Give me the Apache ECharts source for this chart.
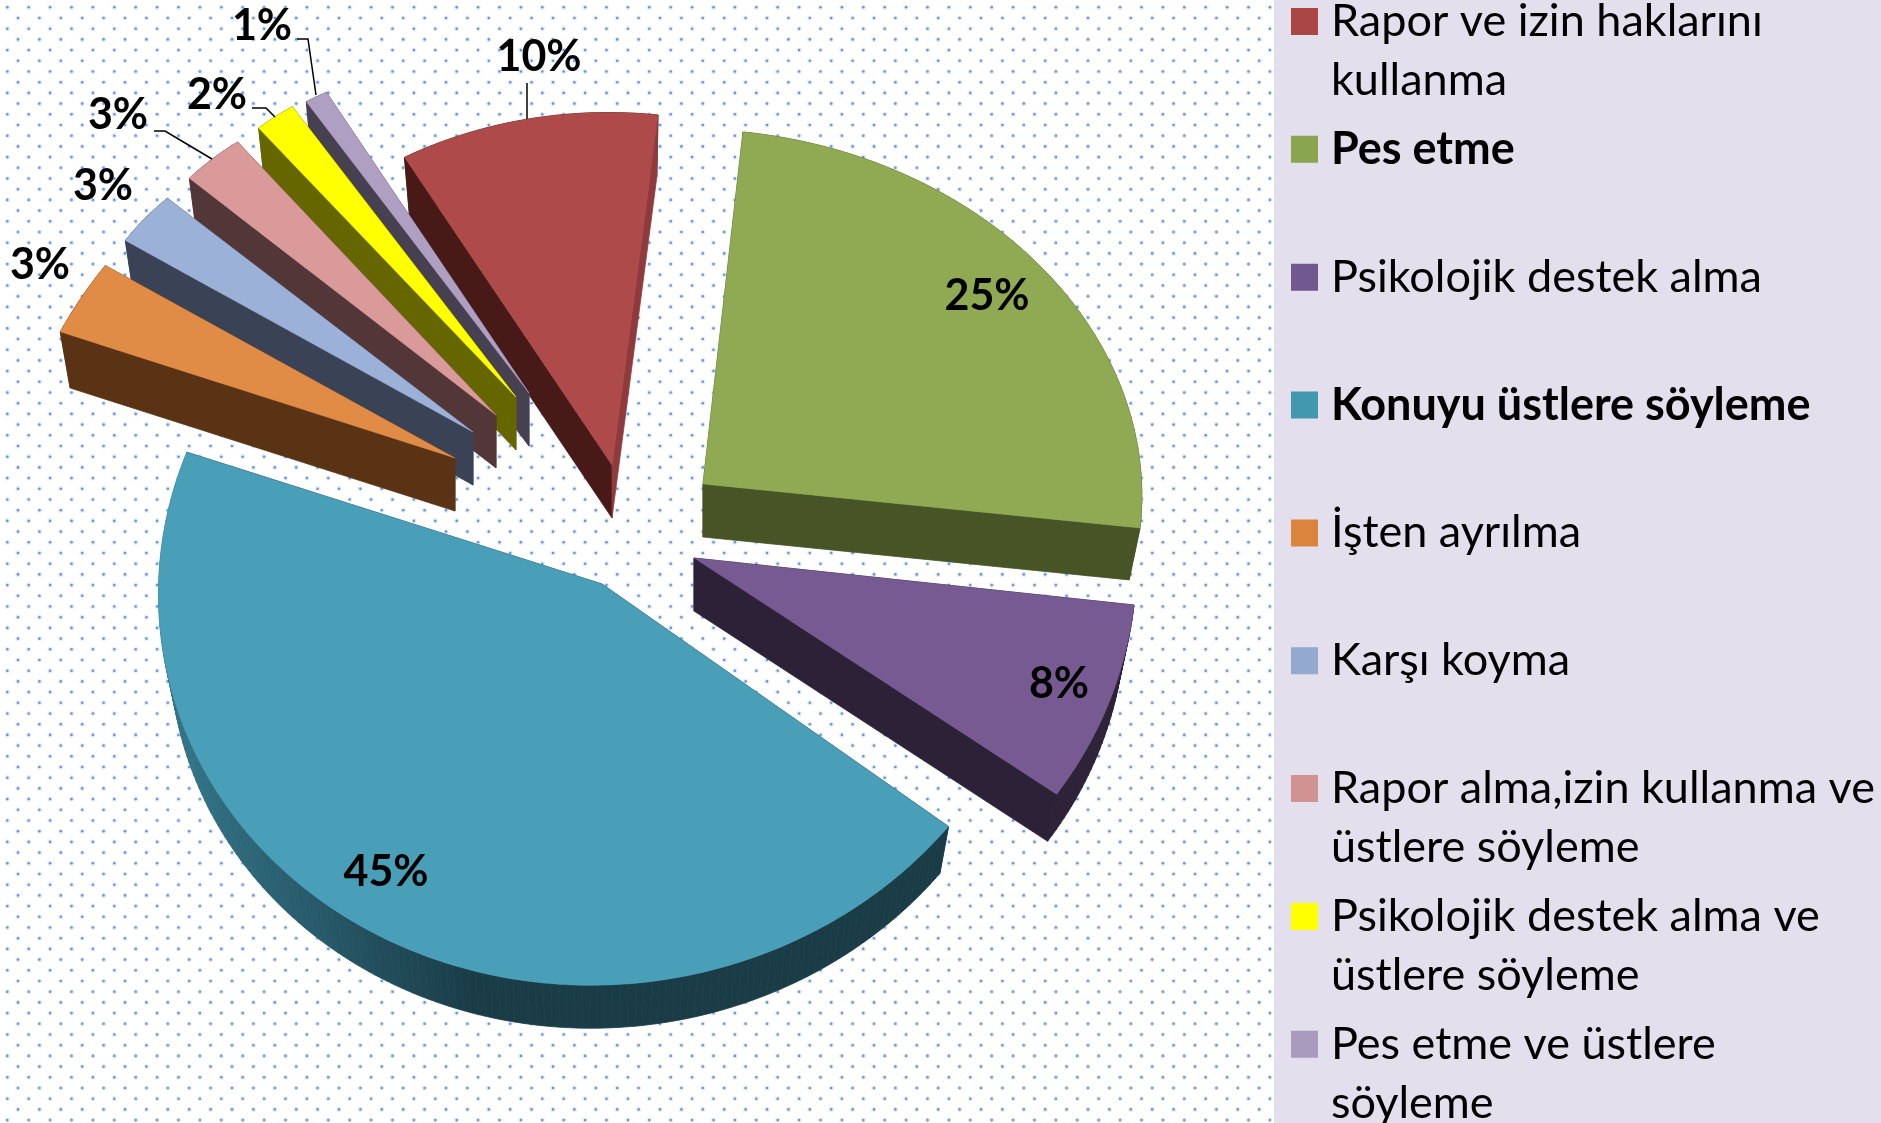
<!DOCTYPE html>
<html>
<head>
<meta charset="utf-8">
<style>html,body{margin:0;padding:0;background:#fff}#c{width:1881px;height:1123px}</style>
<script src="https://cdn.jsdelivr.net/npm/echarts@6/dist/echarts.min.js"></script>
</head>
<body>
<div id="c"></div>
<script>
// ---- data ----
const categories = ['Rapor ve izin haklarını kullanma','Pes etme','Psikolojik destek alma','Konuyu üstlere söyleme','İşten ayrılma','Karşı koyma','Rapor alma,izin kullanma ve üstlere söyleme','Psikolojik destek alma ve üstlere söyleme','Pes etme ve üstlere söyleme'];
const legendLines = [['Rapor ve izin haklarını','kullanma'],['Pes etme',' '],['Psikolojik destek alma',' '],['Konuyu üstlere söyleme',' '],['İşten ayrılma',' '],['Karşı koyma',' '],['Rapor alma,izin kullanma ve','üstlere söyleme'],['Psikolojik destek alma ve','üstlere söyleme'],['Pes etme ve üstlere','söyleme']];
const percentages = [10,25,8,45,3,3,3,2,1];
const boldEntries = ['Pes etme','Konuyu üstlere söyleme'];

// ---- colours ----
const legendColors = ['#AA4643','#89A54E','#71588F','#4198AF','#DB843D','#93A9CF','#D19392','#FFFF00','#A99BBD'];
const topColors = ['#AE4A4A','#8FAA53','#775A92','#4A9FB8','#E08C47','#9CB1D8','#D99A99','#FFFF00','#AFA0C3'];
const wallColors = ['#471A18','#475426','#2C2136','#1A3C47','#5A3315','#3A4255','#533738','#666600','#464050'];
const endWallColors = ['#8F3B3D','#475426','#2C2136','#1A3C47','#5A3315','#3A4255','#533738','#666600','#464050'];
const litWallColors = ['#471A18','#475426','#2C2136','#337589','#5A3315','#3A4255','#533738','#666600','#464050'];

// ---- 3D pie projection ----
const center = [600,500], axisP = [437,44], axisQ = [-40,352], startAngle = 234, depth = 53, bottomScale = 0.975;
const explode = [[12,-35],[103,-16],[94,58],[2,84],[-145,-42],[-127,-68],[-104,-85],[-84,-103],[-71,-107]];
// per-slice perspective warp of the ellipse: x' = a x + b y, y' = c x + d y
const warp = [
  [0.955,-0.0222,-0.0047,0.9938],
  [1,0,0,1],
  [1.0089,-0.0204,-0.0081,1.1488],
  [1.01,-0.10,0.02,1.13],
  [0.9987,-0.2426,0.0173,1.089],
  [0.905,-0.0396,0.1161,0.8566],
  [0.8713,0.0168,0.1035,0.8893],
  [0.8182,0.0699,0.0634,0.9175],
  [0.8746,0.02,0.0526,0.9298]
];
const labelAt = [[-73,-408],[284,-188],[365,126],[-216,288],[-415,-193],[-370,-246],[-378,-300],[-299,-302],[-267,-367]];
const leaders = [[[-85,-382],[-85,-346]],null,null,null,null,null,[[-342,-284],[-331,-284],[-284,-256]],[[-264,-289],[-250,-289],[-241,-280]],[[-232,-354],[-221,-354],[-213,-298]]];
const drawOrder = [0,8,7,6,5,4,1,2,3];

function mix(a,b,f){
  const p=c=>[1,3,5].map(i=>parseInt(c.substr(i,2),16));
  const A=p(a),B=p(b);
  return 'rgb('+A.map((v,i)=>Math.round(v+(B[i]-v)*f)).join(',')+')';
}

const renderSlice = function(index){
  return function(params, api){
    const share = api.value(0);
    const before = percentages.slice(0,index).reduce((s,v)=>s+v,0);
    const t0 = startAngle + before*3.6, t1 = t0 + share*3.6;
    const apex = [center[0]+explode[index][0], center[1]+explode[index][1]];
    const m = warp[index];
    const vec = t => {
      const r=t*Math.PI/180, c=Math.cos(r), n=Math.sin(r);
      const x=axisP[0]*c+axisQ[0]*n, y=axisP[1]*c+axisQ[1]*n;
      return [m[0]*x+m[1]*y, m[2]*x+m[3]*y];
    };
    const top = t => { const v=vec(t); return [apex[0]+v[0], apex[1]+v[1]]; };
    const bot = t => { const v=vec(t); return [apex[0]+v[0]*bottomScale, apex[1]+depth+v[1]*bottomScale]; };
    const apexLow = [apex[0], apex[1]+depth];
    const steps = Math.max(3, Math.ceil(t1-t0));
    const ts = [];
    for(let i=0;i<=steps;i++) ts.push(t0+(t1-t0)*i/steps);
    const kids = [];
    const poly = (pts,color) => kids.push({type:'polygon',shape:{points:pts},style:{fill:color,stroke:color,lineWidth:0.8}});
    for(let i=0;i<steps;i++){
      const mid=vec((ts[i]+ts[i+1])/2);
      const f=Math.max(0,Math.min(1,(-mid[0]/axisP[0]-0.3)/0.7));
      poly([top(ts[i]),top(ts[i+1]),bot(ts[i+1]),bot(ts[i])],mix(wallColors[index],litWallColors[index],f));
    }
    poly([apex,top(t0),bot(t0),apexLow],wallColors[index]);
    poly([apex,top(t1),bot(t1),apexLow],endWallColors[index]);
    const surface=[apex].concat(ts.map(top));
    kids.push({type:'polygon',shape:{points:surface},style:{fill:topColors[index],stroke:topColors[index],lineWidth:0.5}});
    if(leaders[index]){
      kids.push({type:'polyline',shape:{points:leaders[index].map(o=>[apex[0]+o[0],apex[1]+o[1]])},style:{fill:'none',stroke:'#000',lineWidth:1.5}});
    }
    kids.push({type:'text',x:apex[0]+labelAt[index][0],y:apex[1]+labelAt[index][1],
      style:{text:share+'%',fill:'#000',font:'bold 43px Lato',align:'center',verticalAlign:'middle'}});
    return {type:'group',children:kids};
  };
};

// ---- dotted backdrop tile ----
const tile=document.createElement('canvas');
tile.width=107;tile.height=107;
(function(){
  const g=tile.getContext('2d');
  g.fillStyle='#fff';g.fillRect(0,0,107,107);
  const dot=(x,y)=>{
    g.fillStyle='rgba(120,160,220,0.18)';g.beginPath();g.arc(x,y,2.6,0,7);g.fill();
    g.fillStyle='#6A97D3';g.beginPath();g.arc(x,y,1.3,0,7);g.fill();
  };
  for(let r=0;r<10;r++){
    const y=7.3+r*10.7, x0=r%2?18:7.3;
    for(let k=0;k<5;k++) dot(x0+k*21.4,y);
  }
})();

const chart=echarts.init(document.getElementById('c'),null,{renderer:'canvas'});
chart.setOption({
  animation:false,
  backgroundColor:{image:tile,repeat:'repeat'},
  graphic:[{type:'rect',silent:true,z:0,shape:{x:1274,y:0,width:607,height:1123},style:{fill:'#E4DFEC'}}],
  legend:{
    orient:'vertical',left:1291,top:-8,height:1300,width:590,padding:0,
    itemWidth:35,itemHeight:118,itemGap:9.85,selectedMode:false,
    itemStyle:{borderWidth:0},
    icon:'path://M0 16H27V43H0Z M35 0V118',
    textStyle:{color:'#000',fontFamily:'Lato',fontSize:45,lineHeight:59},
    formatter:name=>legendLines[categories.indexOf(name)].join('\n'),
    data:categories.map((name,i)=>({name,textStyle:{fontWeight:boldEntries.includes(legendLines[i][0])?'bold':'normal'}}))
  },
  series:categories.map((name,i)=>({
    type:'custom',name,coordinateSystem:'none',
    z:2+drawOrder.indexOf(i)/10,
    silent:true,
    itemStyle:{color:legendColors[i]},
    data:[[percentages[i]]],
    renderItem:renderSlice(i)
  }))
});
</script>
</body>
</html>
